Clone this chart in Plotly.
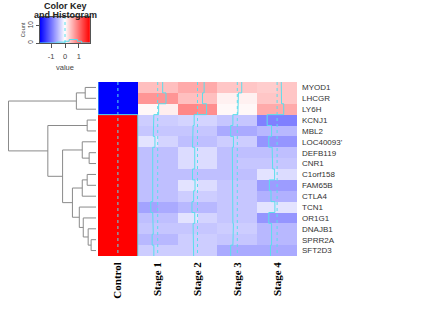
import plotly.graph_objects as go

# ---------------- data ----------------
genes = ["MYOD1", "LHCGR", "LY6H", "KCNJ1", "MBL2", "LOC40093'", "DEFB119", "CNR1",
         "C1orf158", "FAM65B", "CTLA4", "TCN1", "OR1G1", "DNAJB1", "SPRR2A", "SFT2D3"]
column_labels = ["Control", "Stage 1", "Stage 2", "Stage 3", "Stage 4"]

control = [-1.8, -1.8, -1.8, 1.8, 1.8, 1.8, 1.8, 1.8, 1.8, 1.8, 1.8, 1.8, 1.8, 1.8, 1.8, 1.8]
# two sub-columns per stage
stage1 = [[0.45, 0.45], [0.75, 0.75], [0.05, 0.12], [-0.35, -0.35], [-0.40, -0.40], [-0.20, -0.30],
          [-0.45, -0.45], [-0.45, -0.45], [-0.45, -0.45], [-0.45, -0.45], [-0.45, -0.45], [-0.65, -0.60],
          [-0.45, -0.45], [-0.40, -0.40], [-0.50, -0.50], [-0.35, -0.35]]
stage2 = [[0.60, 0.60], [0.45, 0.45], [0.85, 0.80], [-0.30, -0.30], [-0.40, -0.40], [-0.45, -0.45],
          [-0.25, -0.25], [-0.25, -0.25], [-0.45, -0.45], [-0.20, -0.25], [-0.35, -0.35], [-0.50, -0.50],
          [-0.20, -0.30], [-0.40, -0.40], [-0.35, -0.35], [-0.35, -0.35]]
stage3 = [[0.40, 0.40], [0.10, 0.10], [0.05, 0.05], [-0.40, -0.40], [-0.60, -0.60], [-0.35, -0.35],
          [-0.45, -0.45], [-0.45, -0.40], [-0.45, -0.45], [-0.40, -0.40], [-0.40, -0.40], [-0.40, -0.40],
          [-0.40, -0.40], [-0.35, -0.35], [-0.40, -0.40], [-0.60, -0.60]]
stage4 = [[0.35, 0.40], [0.40, 0.40], [0.60, 0.60], [-0.90, -0.90], [-0.50, -0.50], [-0.75, -0.75],
          [-0.45, -0.45], [-0.40, -0.40], [-0.20, -0.25], [-0.70, -0.70], [-0.55, -0.55], [-0.20, -0.20],
          [-0.75, -0.75], [-0.50, -0.50], [-0.50, -0.50], [-0.60, -0.60]]

# dendrogram merges: (name, left child, right child, height)
merges = [
    ("A", 0, 1, 11), ("B", "A", 2, 20), ("C", 3, 4, 9), ("D", 6, 7, 7), ("E", 5, "D", 14),
    ("G", 8, 9, 9), ("H", "G", 10, 14), ("N92", 14, 15, 5), ("N89", 13, "N92", 8),
    ("N84", 12, "N89", 13), ("N80", 11, "N84", 17), ("N73", "H", "N80", 24),
    ("N63", "E", "N73", 34), ("N48", "C", "N63", 49), ("root", "B", "N48", 89),
]

# colour key histogram
hist_edges = [-1.8, -1.2, -0.6, 0.0, 0.3, 0.6, 0.9, 1.2, 1.8]
hist_counts = [0, 0, 0.5, 1, 2, 2, 1, 0]

ZMIN, ZMAX = -1.8, 1.8
W, H = 440, 314
cscale = [[0, "rgb(0,0,255)"], [0.5, "rgb(255,255,255)"], [1, "rgb(255,0,0)"]]

def px_x(p):
    return p / W

def px_y(p):
    return 1 - p / H

# ---------------- build matrix ----------------
z = []
for i in range(len(genes)):
    row = [control[i], control[i]] + stage1[i] + stage2[i] + stage3[i] + stage4[i]
    z.append(row)

fig = go.Figure()
fig.add_trace(go.Heatmap(z=z, x=list(range(10)), y=list(range(len(genes))),
                         colorscale=cscale, zmin=ZMIN, zmax=ZMAX, showscale=False,
                         hoverinfo="skip", xaxis="x", yaxis="y"))

# trace lines (heatmap.2 style)
trace_col = "rgb(90,222,236)"
for c in range(5):
    center = 2 * c + 0.5
    vals = [(z[i][2 * c] + z[i][2 * c + 1]) / 2 for i in range(len(genes))]
    xs, ys = [], []
    for i, v in enumerate(vals):
        xv = center + (v - 0) / (ZMAX - ZMIN) * 2
        xs += [xv, xv]
        ys += [i - 0.5, i + 0.5]
    fig.add_trace(go.Scatter(x=xs, y=ys, mode="lines", line=dict(color=trace_col, width=1),
                             hoverinfo="skip", showlegend=False, xaxis="x", yaxis="y"))
    fig.add_trace(go.Scatter(x=[center, center], y=[-0.5, len(genes) - 0.5], mode="lines",
                             line=dict(color=trace_col, width=1, dash="dot"),
                             hoverinfo="skip", showlegend=False, xaxis="x", yaxis="y"))

# dendrogram
nodes = {}
dx, dy = [], []
for name, l, r, h in merges:
    def info(ch):
        if isinstance(ch, int):
            return ch, 0
        return nodes[ch]
    yl, hl = info(l)
    yr, hr = info(r)
    dx += [hl, h, h, hr, None]
    dy += [yl, yl, yr, yr, None]
    nodes[name] = ((yl + yr) / 2, h)
fig.add_trace(go.Scatter(x=dx, y=dy, mode="lines", line=dict(color="#8a8a8a", width=1),
                         hoverinfo="skip", showlegend=False, xaxis="x3", yaxis="y"))

# colour key
key_x = [ZMIN + (ZMAX - ZMIN) * k / 199 for k in range(200)]
fig.add_trace(go.Heatmap(z=[key_x, key_x], x=key_x, y=[0, 15], colorscale=cscale, zmin=ZMIN, zmax=ZMAX,
                         showscale=False, hoverinfo="skip", xaxis="x2", yaxis="y2"))
hx, hy = [], []
for k, cnt in enumerate(hist_counts):
    hx += [hist_edges[k], hist_edges[k + 1]]
    hy += [cnt, cnt]
fig.add_trace(go.Scatter(x=hx, y=hy, mode="lines", line=dict(color=trace_col, width=1),
                         hoverinfo="skip", showlegend=False, xaxis="x2", yaxis="y2"))
fig.add_trace(go.Scatter(x=[0, 0], y=[0, 15], mode="lines",
                         line=dict(color=trace_col, width=1, dash="dot"),
                         hoverinfo="skip", showlegend=False, xaxis="x2", yaxis="y2"))

fig.update_layout(
    width=W, height=H, autosize=False,
    margin=dict(l=0, r=0, t=0, b=0),
    paper_bgcolor="white", plot_bgcolor="white",
    showlegend=False,
    xaxis=dict(domain=[px_x(98), px_x(297)], range=[-0.5, 9.5], anchor="y", automargin=False,
               tickvals=[0.5, 2.5, 4.5, 6.5, 8.5],
               ticktext=["<b>%s</b>" % t for t in column_labels],
               tickangle=-90, ticks="", showgrid=False, zeroline=False, showline=False,
               tickfont=dict(family="Liberation Serif", size=11, color="black"),
               ticklabelstandoff=3),
    yaxis=dict(domain=[px_y(256), px_y(82)], range=[len(genes) - 0.5, -0.5], anchor="x",
               automargin=False,
               side="right", tickvals=list(range(len(genes))), ticktext=genes, ticks="",
               showgrid=False, zeroline=False, showline=False,
               tickfont=dict(family="Liberation Sans", size=8, color="#333333"),
               ticklabelstandoff=4),
    xaxis3=dict(domain=[px_x(8), px_x(98)], range=[89.5, -2], anchor="y", visible=False),
    xaxis2=dict(domain=[px_x(40), px_x(90)], range=[ZMIN, ZMAX], anchor="y2", automargin=False,
                tickvals=[-1, 0, 1], ticktext=["-1", "0", "1"], ticks="outside", ticklen=4,
                tickcolor="#555", showgrid=False, zeroline=False,
                showline=True, linecolor="#555", linewidth=1, mirror=True,
                tickfont=dict(family="Liberation Sans", size=7.5, color="#444"),
                ticklabelstandoff=2,
                title=dict(text="value", standoff=4,
                           font=dict(family="Liberation Sans", size=7.5, color="#444"))),
    yaxis2=dict(domain=[px_y(43), px_y(17)], range=[0, 15], anchor="x2", automargin=False,
                tickvals=[0, 10], ticks="outside", ticklen=3, tickcolor="#555", tickangle=-90,
                showgrid=False, zeroline=False,
                showline=True, linecolor="#555", linewidth=1, mirror=True,
                tickfont=dict(family="Liberation Sans", size=6.5, color="#444"),
                title=dict(text="Count", standoff=1,
                           font=dict(family="Liberation Sans", size=5.5, color="#444"))),
)

fig.add_annotation(text="<b>Color Key</b>", x=px_x(65), y=px_y(5.5),
                   xref="paper", yref="paper", showarrow=False,
                   xanchor="center", yanchor="middle",
                   font=dict(family="Liberation Sans", size=9, color="#222"))
fig.add_annotation(text="<b>and Histogram</b>", x=px_x(65), y=px_y(15),
                   xref="paper", yref="paper", showarrow=False,
                   xanchor="center", yanchor="middle",
                   font=dict(family="Liberation Sans", size=9, color="#222"))

fig.write_html("out.html", config={"displayModeBar": False},
               post_script="document.body.style.margin='0px';")
